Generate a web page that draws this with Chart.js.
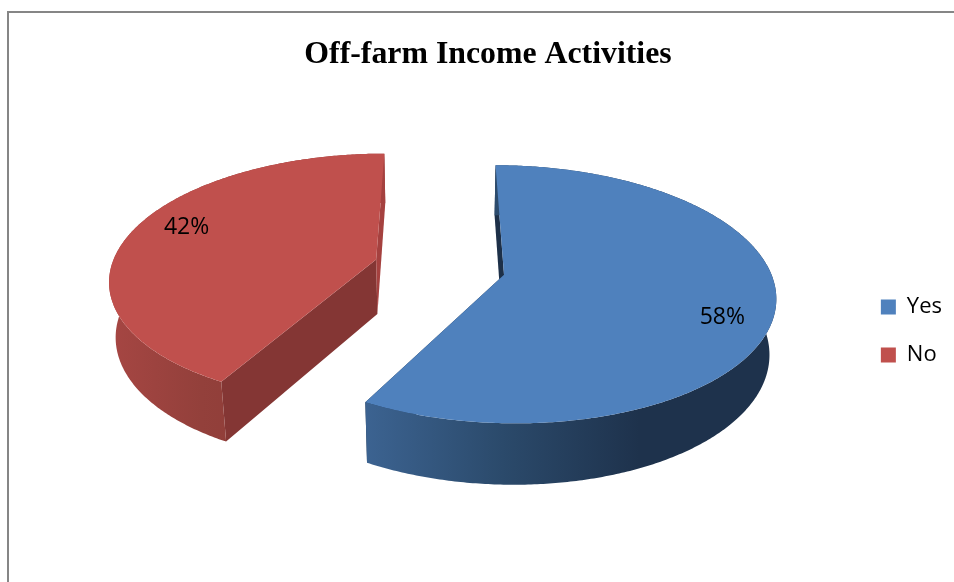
<!DOCTYPE html>
<html lang="en">
<head>
    <meta charset="UTF-8">
    <title>Off-farm Income Activities</title>
    <script src="https://cdn.jsdelivr.net/npm/chart.js"></script>
    <style>
        html, body { margin: 0; padding: 0; background: #fff; overflow: hidden; }
        #wrap { position: relative; width: 954px; height: 582px; }
        #frame {
            position: absolute; left: 7px; top: 11px; right: 0; bottom: 0;
            border-left: 2px solid #868686; border-top: 2px solid #868686;
        }
        canvas { position: absolute; left: 0; top: 0; }
    </style>
</head>
<body>
<div id="wrap">
    <div id="frame"></div>
    <canvas id="pie" width="954" height="582"></canvas>
</div>
<script>
    const categories = ['Yes', 'No'];
    const shares = [58, 42];

    const topColors = ['#4f81bd', '#c0504d'];
    // wall gradient stops, left to right
    const wallColors = [['#3c6391', '#2b4a6b', '#1e324c', '#1e324c'], ['#a64643', '#93403b', '#8d3b37', '#a5413f']];
    const startFaceColors = ['#1d3048', '#843634'];
    const endFaceColors = ['#1d3048', '#a5413f'];
    const labelReach = [0.83, 0.81];
    const labelTurn = [8.5 * Math.PI / 180, 5.5 * Math.PI / 180];

    // fake 3D camera, tuned by eye against the picture
    const cam = { vx: 439.5, vy: 267, radius: 265, explode: 66, tilt: 0.467, depth: 56, persp: 0.15, sink: 0.02 };

    function project(x, y, z) {
        const d = 1 + cam.persp * y / cam.radius + cam.sink * z;
        return [cam.vx + x / d, cam.vy + (-cam.tilt * y + cam.depth * z) / d];
    }

    function tracePoly(ctx, pts) {
        ctx.beginPath();
        pts.forEach((p, i) => i ? ctx.lineTo(p[0], p[1]) : ctx.moveTo(p[0], p[1]));
        ctx.closePath();
    }

    function rim(arc, ox, oy, z) {
        const pts = [];
        const steps = Math.ceil((arc.endAngle - arc.startAngle) / 0.01);
        for (let i = 0; i <= steps; i++) {
            const a = arc.startAngle + (arc.endAngle - arc.startAngle) * i / steps;
            pts.push(project(ox + cam.radius * Math.cos(a), oy - cam.radius * Math.sin(a), z));
        }
        return pts;
    }

    const pie3d = {
        id: 'pie3d',
        beforeDatasetsDraw(chart) {
            const ctx = chart.ctx;
            const arcs = chart.getDatasetMeta(0).data;
            ctx.save();
            arcs.forEach((arc, i) => {
                const mid = (arc.startAngle + arc.endAngle) / 2;
                const ox = cam.explode * Math.cos(mid);
                const oy = -cam.explode * Math.sin(mid);
                const top = rim(arc, ox, oy, 0);
                const bottom = rim(arc, ox, oy, 1);
                const apexTop = project(ox, oy, 0);
                const apexBottom = project(ox, oy, 1);

                // cut faces first, outer wall and top go over them
                ctx.fillStyle = startFaceColors[i];
                tracePoly(ctx, [apexTop, top[0], bottom[0], apexBottom]);
                ctx.fill();
                ctx.fillStyle = endFaceColors[i];
                tracePoly(ctx, [apexTop, top[top.length - 1], bottom[bottom.length - 1], apexBottom]);
                ctx.fill();

                const xs = bottom.concat(top).map(p => p[0]);
                const left = Math.min(...xs), right = Math.max(...xs);
                const grad = ctx.createLinearGradient(left, 0, right, 0);
                wallColors[i].forEach((c, k) => grad.addColorStop(k / (wallColors[i].length - 1), c));
                ctx.fillStyle = grad;
                tracePoly(ctx, top.concat(bottom.slice().reverse()));
                ctx.fill();

                ctx.fillStyle = topColors[i];
                tracePoly(ctx, [apexTop].concat(top));
                ctx.fill();
            });

            ctx.fillStyle = '#000';
            ctx.font = '23px "Open Sans", sans-serif';
            ctx.textAlign = 'center';
            ctx.textBaseline = 'middle';
            arcs.forEach((arc, i) => {
                const mid = (arc.startAngle + arc.endAngle) / 2;
                const a = mid + labelTurn[i];
                const x = cam.explode * Math.cos(mid) + labelReach[i] * cam.radius * Math.cos(a);
                const y = -cam.explode * Math.sin(mid) - labelReach[i] * cam.radius * Math.sin(a);
                const p = project(x, y, 0);
                ctx.fillText(shares[i] + '%', p[0], p[1]);
            });
            ctx.restore();
            return false; // arcs are fully painted above
        }
    };

    new Chart(document.getElementById('pie'), {
        type: 'pie',
        data: {
            labels: categories,
            datasets: [{ data: shares, backgroundColor: topColors, borderWidth: 0 }]
        },
        options: {
            responsive: false,
            animation: false,
            layout: { padding: { left: 24, right: 2, bottom: 190 } },
            plugins: {
                title: {
                    display: true,
                    text: 'Off-farm Income Activities',
                    color: '#000',
                    font: { family: '"Liberation Serif", serif', size: 31.8, weight: 'bold' },
                    padding: { top: 36, bottom: 6 }
                },
                legend: {
                    position: 'right',
                    align: 'end',
                    labels: {
                        color: '#000',
                        font: { family: '"Open Sans", sans-serif', size: 22 },
                        boxWidth: 15,
                        boxHeight: 15,
                        padding: 26
                    }
                },
                tooltip: { enabled: false }
            }
        },
        plugins: [pie3d]
    });
</script>
</body>
</html>
